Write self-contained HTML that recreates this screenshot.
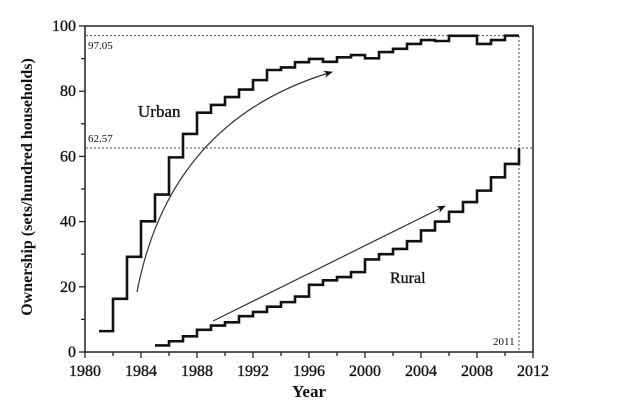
<!DOCTYPE html>
<html><head><meta charset="utf-8"><style>
html,body{margin:0;padding:0;background:#fff;}
svg{display:block;font-family:"Liberation Serif",serif;}
</style></head><body>
<svg id="s" width="626" height="417" viewBox="0 0 626 417" xmlns="http://www.w3.org/2000/svg">
<defs><marker id="ah" viewBox="0 0 10 10" refX="9" refY="5" markerWidth="9" markerHeight="9" orient="auto" markerUnits="userSpaceOnUse"><path d="M0,1 L10,5 L0,9 L3,5 Z" fill="#111"/></marker></defs>
<rect x="85" y="26" width="448" height="326" fill="none" stroke="#222" stroke-width="1.5"/>
<g stroke="#555" stroke-width="1" stroke-dasharray="2,2" fill="none">
<line x1="86" y1="35.6" x2="519" y2="35.6"/>
<line x1="86" y1="148" x2="533" y2="148"/>
<line x1="519" y1="36" x2="519" y2="352"/>
</g>
<g id="ticks" stroke="#222" stroke-width="1.3"></g>
<g id="lbl" font-size="16" fill="#111" stroke="#111" stroke-width="0.35"></g>
<path id="urban" fill="none" stroke="#111" stroke-width="2.6"/>
<path id="rural" fill="none" stroke="#111" stroke-width="2.6"/>
<path d="M137,292 Q170,120 332,72" fill="none" stroke="#333" stroke-width="1.2" marker-end="url(#ah)"/>
<line x1="213" y1="321" x2="445" y2="206" stroke="#333" stroke-width="1.2" marker-end="url(#ah)"/>
<text x="138" y="117" font-size="17" fill="#111" stroke="#111" stroke-width="0.35">Urban</text>
<text x="390" y="283" font-size="16" fill="#111" stroke="#111" stroke-width="0.35">Rural</text>
<text x="88" y="49" font-size="11" fill="#111">97.05</text>
<text x="88" y="142" font-size="11" fill="#111">62.57</text>
<text x="493" y="345" font-size="11" fill="#111">2011</text>
<text x="309" y="397" font-size="17" font-weight="bold" text-anchor="middle" fill="#111">Year</text>
<text transform="translate(32,187) rotate(-90)" font-size="16" font-weight="bold" text-anchor="middle" fill="#111">Ownership (sets/hundred households)</text>
</svg>
<script>
var X=function(y){return 85+(y-1980)*14;},Y=function(v){return 352-v*3.26;};
var u=[[1981,6.4],[1982,16.3],[1983,29.2],[1984,40.1],[1985,48.3],[1986,59.7],[1987,66.9],[1988,73.4],[1989,75.8],[1990,78.2],[1991,80.5],[1992,83.4],[1993,86.5],[1994,87.3],[1995,88.9],[1996,89.9],[1997,89],[1998,90.4],[1999,91.1],[2000,90.1],[2001,92],[2002,93],[2003,94.5],[2004,95.7],[2005,95.4],[2006,97],[2007,97],[2008,94.5],[2009,95.7],[2010,97.05]];
var r=[[1985,2],[1986,3.3],[1987,4.8],[1988,6.8],[1989,8.1],[1990,9.1],[1991,11],[1992,12.3],[1993,13.9],[1994,15.3],[1995,17],[1996,20.6],[1997,22],[1998,23],[1999,24.5],[2000,28.4],[2001,30],[2002,31.6],[2003,34],[2004,37.3],[2005,40],[2006,43],[2007,46],[2008,49.5],[2009,53.6],[2010,57.7]];
function step(d,last){var p="M"+X(d[0][0])+","+Y(d[0][1]);for(var i=0;i<d.length;i++){var nx=i+1<d.length?d[i+1][0]:2011;p+=" H"+X(nx);if(i+1<d.length)p+=" V"+Y(d[i+1][1]);}if(last!=null)p+=" V"+Y(last);return p;}
document.getElementById("urban").setAttribute("d",step(u,null));
document.getElementById("rural").setAttribute("d",step(r,62.57));
var t="",l="";
for(var y=1980;y<=2012;y+=2){var big=(y%4==0);t+='<line x1="'+X(y)+'" y1="352" x2="'+X(y)+'" y2="'+(big?358:356)+'"/>';if(big)l+='<text x="'+X(y)+'" y="376" text-anchor="middle">'+y+'</text>';}
for(var v=0;v<=100;v+=10){var b=(v%20==0);t+='<line x1="85" y1="'+Y(v)+'" x2="'+(b?79:81)+'" y2="'+Y(v)+'"/>';if(b)l+='<text x="76" y="'+(Y(v)+5)+'" text-anchor="end">'+v+'</text>';}
document.getElementById("ticks").innerHTML=t;document.getElementById("lbl").innerHTML=l;
</script>
</body></html>
